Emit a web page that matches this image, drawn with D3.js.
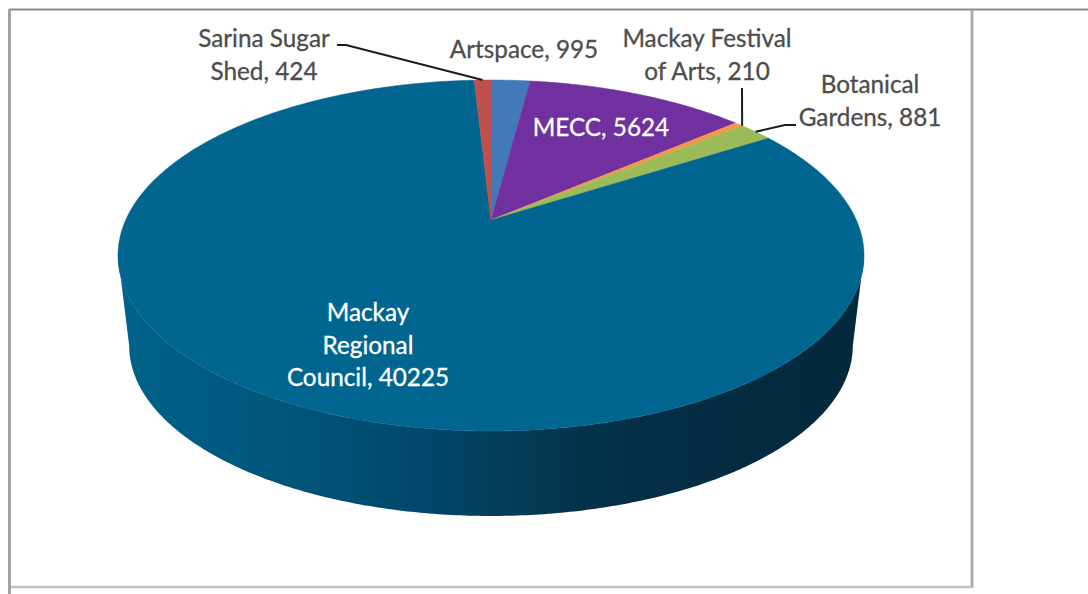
<!DOCTYPE html>
<html>
<head>
<meta charset="utf-8">
<script src="https://cdn.jsdelivr.net/npm/d3@7"></script>
<style>
  html, body { margin: 0; padding: 0; background: #fff; }
  svg { display: block; }
  text { font-family: Lato, "Open Sans", sans-serif; font-size: 24.3px; text-anchor: middle; stroke-width: 0.3px; }
</style>
</head>
<body>
<script>
// Attendance by venue, clockwise from twelve o'clock
const venues = ["Artspace", "MECC", "Mackay Festival of Arts", "Botanical Gardens", "Mackay Regional Council", "Sarina Sugar Shed"];
const attendance = [995, 5624, 210, 881, 40225, 424];
const sliceColours = ["#4279b8", "#7030a0", "#f79646", "#9bbb59", "#00658f", "#c0504d"];

// Label lines for each venue
const labelLines = [
  ["Artspace, 995"],
  ["MECC, 5624"],
  ["Mackay Festival", "of Arts, 210"],
  ["Botanical", "Gardens, 881"],
  ["Mackay", "Regional", "Council, 40225"],
  ["Sarina Sugar", "Shed, 424"]
];
const labelInk = ["#4d4d4d", "#ffffff", "#4d4d4d", "#4d4d4d", "#ffffff", "#4d4d4d"];
const labelCentreX = [524, 601, 707, 870, 368, 264];
const labelBaseY = [58, 136, 47, 93, 321, 47];
const labelLineHeight = 32.5;

// Leader line starts beside the label; the far end sits on the slice rim,
// at the given fraction of the way along the slice's arc
const leaderStarts = { 5: [[337, 45], [346, 45]], 2: [[742, 88]], 3: [[796, 125], [785, 125]] };
const leaderAnchor = { 5: 0.5, 2: 1, 3: 0.5 };

const W = 1088, H = 594;
const svg = d3.select("body").append("svg").attr("width", W).attr("height", H);

// Page frame
const frame = [
  { x1: 9, y1: 9.5, x2: 1088, y2: 9.5, c: "#8c8c8c", w: 2 },
  { x1: 972, y1: 10, x2: 972, y2: 588, c: "#adadad", w: 3 },
  { x1: 10, y1: 587, x2: 972, y2: 587, c: "#c2c2c2", w: 2.5 },
  { x1: 9.5, y1: 9, x2: 9.5, y2: 594, c: "#a3a3a3", w: 3 }
];
svg.selectAll("line.frame").data(frame).join("line").attr("class", "frame")
  .attr("x1", d => d.x1).attr("y1", d => d.y1).attr("x2", d => d.x2).attr("y2", d => d.y2)
  .attr("stroke", d => d.c).attr("stroke-width", d => d.w);

// The disc is a circle seen in perspective: far points shrink, near points grow
const apex = [491, 220];
const farReach = 140, nearReach = 211, halfWidth = 373;
const k = (nearReach - farReach) / (nearReach + farReach);
const B = farReach * (1 + k);
const A = halfWidth * Math.sqrt(1 - k * k);
const rimDepth = { scale: 0.97, drop: 91.3 };

function project(angle, r = 1, level = { scale: 1, drop: 0 }) {
  const u = r * Math.sin(angle), v = r * Math.cos(angle), w = 1 + k * v;
  return [apex[0] + level.scale * A * u / w, apex[1] + level.drop - level.scale * B * v / w];
}
function arcPoints(a0, a1, level) {
  const n = Math.max(2, Math.ceil(Math.abs(a1 - a0) / 0.01));
  return d3.range(n + 1).map(i => project(a0 + (a1 - a0) * i / n, 1, level));
}

const pieLayout = d3.pie().sort(null).value(d => d)(attendance);
const path = d3.line();

// Angle where the top rim is widest on each side
const bottomLevel = rimDepth;
const sideAngle = Math.acos(-k);

// Side wall: horizontal shading, lit on the left, deep shadow on the right
const defs = svg.append("defs");
const grad = defs.append("linearGradient").attr("id", "wall")
  .attr("gradientUnits", "userSpaceOnUse").attr("x1", 118).attr("x2", 864).attr("y1", 0).attr("y2", 0);
const wallOffsets = [0, 0.22, 0.42, 0.5, 0.62, 0.85, 1];
const wallColours = ["#00628a", "#00567c", "#00466a", "#033f5c", "#03324b", "#032a3f", "#03293d"];
grad.selectAll("stop").data(wallOffsets).join("stop")
  .attr("offset", d => d).attr("stop-color", (d, i) => wallColours[i]);

const wallTop = arcPoints(sideAngle, 2 * Math.PI - sideAngle);
const wallBottom = arcPoints(2 * Math.PI - sideAngle, sideAngle, bottomLevel);
svg.append("path").attr("d", path(wallTop.concat(wallBottom)) + "Z").attr("fill", "url(#wall)");

// Top face slices
svg.selectAll("path.slice").data(pieLayout).join("path").attr("class", "slice")
  .attr("d", d => path([apex].concat(arcPoints(d.startAngle, d.endAngle))) + "Z")
  .attr("fill", (d, i) => sliceColours[i])
  .attr("stroke", (d, i) => sliceColours[i]).attr("stroke-width", 0.5);

// Leader lines
Object.keys(leaderStarts).forEach(key => {
  const s = pieLayout[+key];
  const end = project(s.startAngle + (s.endAngle - s.startAngle) * leaderAnchor[key]);
  svg.append("path").attr("d", path(leaderStarts[key].concat([end])))
    .attr("fill", "none").attr("stroke", "#1c1c1c").attr("stroke-width", 2);
});

// Venue labels
const labels = svg.selectAll("text.venue").data(venues).join("text").attr("class", "venue")
  .attr("fill", (d, i) => labelInk[i])
  .attr("stroke", (d, i) => labelInk[i]);
labels.each(function (d, i) {
  d3.select(this).selectAll("tspan").data(labelLines[i]).join("tspan")
    .attr("x", labelCentreX[i])
    .attr("y", (t, j) => labelBaseY[i] + j * labelLineHeight)
    .text(t => t);
});
</script>
</body>
</html>
